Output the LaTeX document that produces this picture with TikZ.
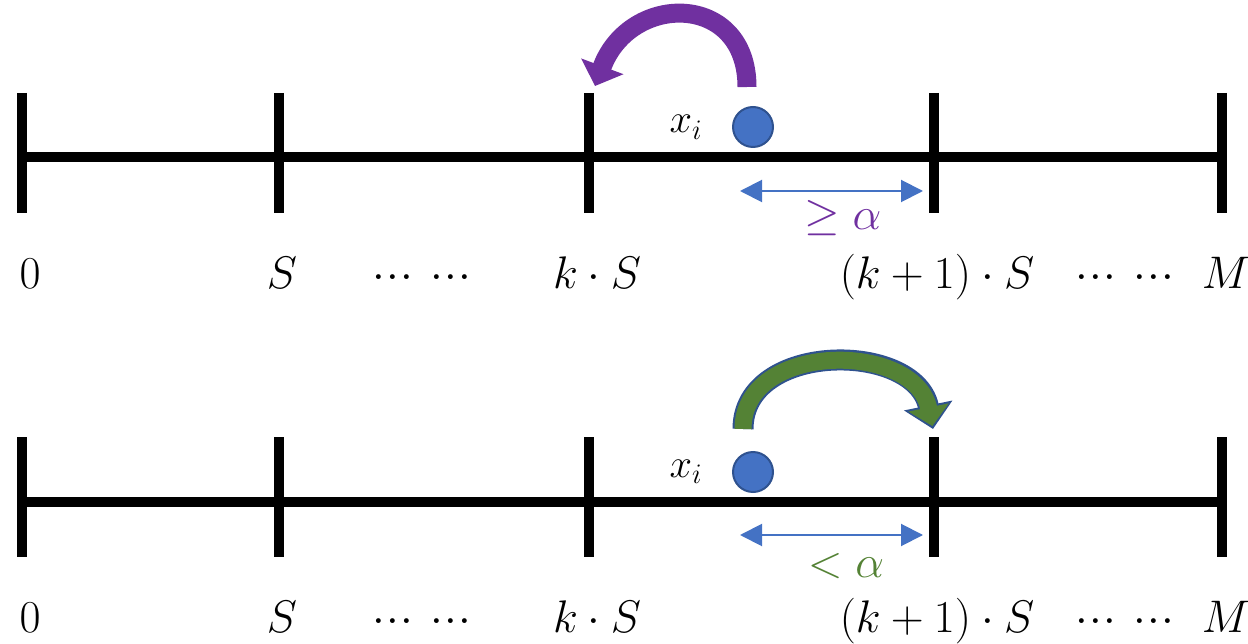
\RequirePackage{fix-cm}
\documentclass[tikz,border=0pt]{standalone}
\usetikzlibrary{arrows.meta}
\definecolor{dotblue}{RGB}{68,114,196}
\definecolor{dotedge}{RGB}{47,82,143}
\definecolor{jumppurple}{RGB}{112,48,160}
\definecolor{jumpgreen}{RGB}{84,130,53}
\definecolor{greenedge}{RGB}{47,82,143}
\newcommand\tridots{{\cdotp}\mkern0.5mu{\cdotp}\mkern0.5mu{\cdotp}}
\newcommand\sixdots{\tridots\mkern7mu\tridots}
\begin{document}
\begin{tikzpicture}[x=0.02cm,y=0.02cm,
  axisline/.style={line width=0.2cm,black},
  ticklinestyle/.style={line width=0.21cm,black},
  lab/.style={anchor=base,inner sep=0pt,font=\fontsize{26}{30}\selectfont},
  xlab/.style={anchor=base,inner sep=0pt,font=\fontsize{23}{27}\selectfont},
  alab/.style={anchor=base,inner sep=0pt,font=\fontsize{26}{30}\selectfont},
  dotstyle/.style={circle,fill=dotblue,draw=dotedge,line width=0.04cm,minimum size=0.8cm,inner sep=0pt},
  dist/.style={draw=dotblue,line width=0.04cm,{Triangle[length=0.44cm,width=0.44cm]}-{Triangle[length=0.44cm,width=0.44cm]}},
  purplejump/.style={draw=jumppurple,line width=0.38cm,-{Triangle[length=0.42cm,width=0.88cm]}},
  greenjumpedge/.style={draw=greenedge,line width=0.42cm,-{Triangle[length=0.48cm,width=0.96cm]}},
  greenjump/.style={draw=jumpgreen,line width=0.34cm,shorten >=0.06cm,-{Triangle[length=0.38cm,width=0.80cm]}}
]
\useasboundingbox (0,0) rectangle (1248,643);
% ---------- top axis ----------
\foreach \n/\x in {a/22,b/279,c/589,d/934,e/1222}{
  \coordinate (T\n t) at (\x,550);
  \coordinate (T\n b) at (\x,430);
  \draw[ticklinestyle] (T\n t) -- (T\n b);
}
\coordinate (TL) at (22,486);
\coordinate (TR) at (1222,486);
\draw[axisline] (TL) -- (TR);
\node[lab] (t0) at (30,354) {$0$};
\node[lab] (tS) at (282,354) {$S$};
\node[lab] (td1) at (422,354) {$\sixdots$};
\node[lab] (tkS) at (597,354) {$k\cdot S$};
\node[lab] (tk1S) at (937,354) {$(k+1)\cdot S$};
\node[lab] (td2) at (1125,354) {$\sixdots$};
\node[lab] (tM) at (1226,354) {$M$};
\node[dotstyle] (tdot) at (753,516) {};
\node[xlab] (txi) at (686,510) {$x_i$};
\coordinate (tda1) at (740,452);
\coordinate (tda2) at (923,452);
\draw[dist] (tda1) -- (tda2);
\node[alab,text=jumppurple] (tal) at (843,413) {$\geq\alpha$};
\coordinate (tj1) at (747,556);
\coordinate (tj2) at (595,557);
\draw[purplejump] (tj1) .. controls (747,651) and (630,651) .. (tj2);
% ---------- bottom axis ----------
\foreach \n/\x in {a/22,b/279,c/589,d/934,e/1222}{
  \coordinate (B\n t) at (\x,206);
  \coordinate (B\n b) at (\x,86);
  \draw[ticklinestyle] (B\n t) -- (B\n b);
}
\coordinate (BL) at (22,141);
\coordinate (BR) at (1222,141);
\draw[axisline] (BL) -- (BR);
\node[lab] (b0) at (30,11) {$0$};
\node[lab] (bS) at (282,11) {$S$};
\node[lab] (bd1) at (422,11) {$\sixdots$};
\node[lab] (bkS) at (597,11) {$k\cdot S$};
\node[lab] (bk1S) at (937,11) {$(k+1)\cdot S$};
\node[lab] (bd2) at (1125,11) {$\sixdots$};
\node[lab] (bM) at (1226,11) {$M$};
\node[dotstyle] (bdot) at (753,171) {};
\node[xlab] (bxi) at (686,166) {$x_i$};
\coordinate (bda1) at (740,108);
\coordinate (bda2) at (923,108);
\draw[dist] (bda1) -- (bda2);
\node[alab,text=jumpgreen] (bal) at (846,66) {$<\alpha$};
\coordinate (bj1) at (743,214);
\coordinate (bj2) at (933,214);
\draw[greenjumpedge] (bj1) .. controls (743,302) and (915,302) .. (bj2);
\draw[greenjump] (bj1) .. controls (743,302) and (915,302) .. (bj2);
\end{tikzpicture}
\end{document}
